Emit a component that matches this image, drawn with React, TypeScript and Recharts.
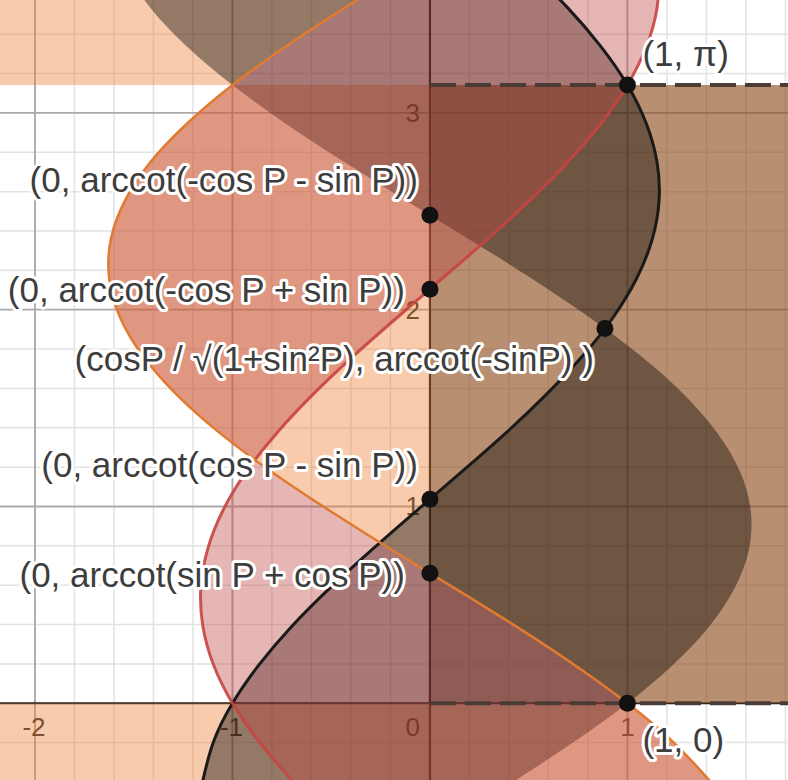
import React from 'react';
import { ComposedChart, Area, Line, Scatter, XAxis, YAxis, ReferenceLine } from 'recharts';

// ---- plot window (math units) ----
const X_MIN = -2.177;
const X_MAX = 1.813;
const Y_MIN = -0.39;
const Y_MAX = 3.574;
const X_FAR_LEFT = -2.6;
const X_FAR_RIGHT = 2.2;
const PI_Y = 3.1416;

// ---- curves, x read as a function of y ----
const yLevels = [-0.393, -0.196, 0, 0.196, 0.393, 0.589, 0.785, 0.982, 1.178, 1.374, 1.571, 1.767, 1.963, 2.16, 2.356, 2.553, 2.749, 2.945, 3.142, 3.338, 3.534, 3.731];
const orangeX = [1.416, 1.231, 1.0, 0.73, 0.432, 0.118, -0.202, -0.513, -0.805, -1.065, -1.285, -1.455, -1.57, -1.624, -1.616, -1.545, -1.416, -1.231, -1.0, -0.73, -0.432, -0.118];
const hiddenX = [0.432, 0.73, 1.0, 1.231, 1.416, 1.545, 1.616, 1.624, 1.57, 1.455, 1.285, 1.065, 0.805, 0.513, 0.202, -0.118, -0.432, -0.73, -1.0, -1.231, -1.416, -1.545];
const blackX = [-1.15, -1.096, -1.0, -0.865, -0.698, -0.503, -0.289, -0.064, 0.163, 0.385, 0.591, 0.775, 0.929, 1.047, 1.125, 1.16, 1.15, 1.096, 1.0, 0.865, 0.698, 0.503];
const redX = [-0.698, -0.865, -1.0, -1.096, -1.15, -1.16, -1.125, -1.047, -0.929, -0.775, -0.591, -0.385, -0.163, 0.064, 0.289, 0.503, 0.698, 0.865, 1.0, 1.096, 1.15, 1.16];

// ---- grid / ticks ----
const xMinorTicks = [-2, -1.8, -1.6, -1.4, -1.2, -1, -0.8, -0.6, -0.4, -0.2, 0.2, 0.4, 0.6, 0.8, 1.2, 1.4, 1.6, 1.8];
const yMinorTicks = [-0.2, 0.2, 0.4, 0.6, 0.8, 1.2, 1.4, 1.6, 1.8, 2.2, 2.4, 2.6, 2.8, 3.2, 3.4];
const xMajorTicks = [-2, -1, 1];
const yMajorTicks = [1, 2, 3];

const xTickValues = [-2, -1, 0, 1];
const xTickLabels = ['-2', '-1', '0', '1'];
const yTickValues = [1, 2, 3];
const yTickLabels = ['1', '2', '3'];

// ---- labelled points ----
const pointX = [1, 0, 0, 0.886, 0, 0, 1];
const pointY = [3.1416, 2.48, 2.104, 1.904, 1.037, 0.661, 0];
const pointLabels = [
  '(1, π)',
  '(0, arccot(-cos P - sin P))',
  '(0, arccot(-cos P + sin P))',
  '(cosP / √(1+sin²P), arccot(-sinP) )',
  '(0, arccot(cos P - sin P))',
  '(0, arccot(sin P + cos P))',
  '(1, 0)',
];

// label placement (pixels relative to the dot)
const labelPlacement = [
  { anchor: 'start', dx: 15, dy: -19 },
  { anchor: 'end', dx: -12, dy: -23 },
  { anchor: 'end', dx: -25, dy: 13 },
  { anchor: 'end', dx: -11, dy: 42 },
  { anchor: 'end', dx: -12, dy: -22 },
  { anchor: 'end', dx: -25, dy: 14 },
  { anchor: 'start', dx: 15, dy: 49 },
];

const curveRows = yLevels.map((y, i) => ({ y, o: orangeX[i], h: hiddenX[i], b: blackX[i], r: redX[i] }));
const orangeBottom = curveRows.slice(0, 3);
const orangeMiddle = curveRows.slice(2, 19);
const orangeTop = curveRows.slice(18);
const rectRows = [{ y: 0 }, { y: PI_Y }];
const piDashRows = [{ y: PI_Y, x: 0 }, { y: PI_Y, x: X_FAR_RIGHT }];
const zeroDashRows = [{ y: 0, x: 0 }, { y: 0, x: X_FAR_RIGHT }];

const tickRows = [
  ...xTickValues.map((x, i) => ({ x, y: 0, label: xTickLabels[i], kind: 'x' })),
  ...yTickValues.map((y, i) => ({ x: 0, y, label: yTickLabels[i], kind: 'y' })),
];
const pointRows = pointX.map((x, i) => ({ x, y: pointY[i], label: pointLabels[i], idx: i }));

const FONT = "'Liberation Sans', Arial, Helvetica, sans-serif";

const TickText = (props: any) => {
  const { cx, cy, payload } = props;
  if (cx == null || cy == null) return null;
  if (payload.kind === 'x') {
    const origin = payload.x === 0;
    return (
      <text
        x={origin ? cx - 10 : cx - (payload.x < 0 ? 1 : 0)}
        y={cy + 33}
        textAnchor={origin ? 'end' : 'middle'}
        fontFamily={FONT}
        fontSize={26}
        fill="#333"
      >
        {payload.label}
      </text>
    );
  }
  return (
    <text x={cx - 10} y={cy + 9} textAnchor="end" fontFamily={FONT} fontSize={26} fill="#333">
      {payload.label}
    </text>
  );
};

const PointMark = (props: any) => {
  const { cx, cy, payload } = props;
  if (cx == null || cy == null) return null;
  const p = labelPlacement[payload.idx];
  return (
    <g>
      <circle cx={cx} cy={cy} r={8.5} fill="#111" />
      <text
        x={cx + p.dx}
        y={cy + p.dy}
        textAnchor={p.anchor as any}
        fontFamily={FONT}
        fontSize={35}
        fill="#3d3d3d"
        stroke="#ffffff"
        strokeWidth={6}
        strokeLinejoin="round"
        paintOrder="stroke"
      >
        {payload.label}
      </text>
    </g>
  );
};

const areaCommon = { stroke: 'none', isAnimationActive: false, activeDot: false, dot: false } as any;
const lineCommon = { dot: false, activeDot: false, isAnimationActive: false } as any;

export default function App() {
  return (
    <div style={{ position: 'absolute', left: 0, top: 0, width: 788, height: 780, background: '#fff' }}>
      <ComposedChart
        layout="vertical"
        width={788}
        height={780}
        margin={{ top: 0, right: 0, bottom: 0, left: 0 }}
      >
        <XAxis type="number" dataKey="x" domain={[X_MIN, X_MAX]} allowDataOverflow hide />
        <YAxis type="number" dataKey="y" domain={[Y_MIN, Y_MAX]} allowDataOverflow reversed hide />

        {xMinorTicks.map((v) => (
          <ReferenceLine key={'xm' + v} x={v} stroke="#e2e2e2" strokeWidth={1.5} zIndex={-90} />
        ))}
        {yMinorTicks.map((v) => (
          <ReferenceLine key={'ym' + v} y={v} stroke="#e2e2e2" strokeWidth={1.5} zIndex={-90} />
        ))}
        {xMajorTicks.map((v) => (
          <ReferenceLine key={'xM' + v} x={v} stroke="#a9a9a9" strokeWidth={1.8} zIndex={-80} />
        ))}
        {yMajorTicks.map((v) => (
          <ReferenceLine key={'yM' + v} y={v} stroke="#a9a9a9" strokeWidth={1.8} zIndex={-80} />
        ))}
        <ReferenceLine x={0} stroke="#1e1e1e" strokeWidth={2.2} zIndex={-70} />
        <ReferenceLine y={0} stroke="#1e1e1e" strokeWidth={2.2} zIndex={-70} />

        <Scatter data={tickRows} shape={TickText} isAnimationActive={false} zIndex={-50} />

        {/* orange region */}
        <Area data={orangeBottom} dataKey={(d: any) => [X_FAR_LEFT, d.o]} type="natural" fill="#eb7d2d" fillOpacity={0.4} {...areaCommon} />
        <Area data={orangeMiddle} dataKey={(d: any) => [d.o, X_FAR_RIGHT]} type="natural" fill="#eb7d2d" fillOpacity={0.4} {...areaCommon} />
        <Area data={orangeTop} dataKey={(d: any) => [X_FAR_LEFT, d.o]} type="natural" fill="#eb7d2d" fillOpacity={0.4} {...areaCommon} />
        {/* brown band x>0, 0<y<pi */}
        <Area data={rectRows} dataKey={() => [0, X_FAR_RIGHT]} type="linear" fill="#5b3518" fillOpacity={0.4} {...areaCommon} />
        {/* black region between hidden curve and black curve */}
        <Area data={curveRows} dataKey={(d: any) => [d.h, d.b]} type="natural" fill="#000000" fillOpacity={0.4} {...areaCommon} />
        {/* red region between orange and red curves */}
        <Area data={curveRows} dataKey={(d: any) => [d.o, d.r]} type="natural" fill="#be4843" fillOpacity={0.4} {...areaCommon} />

        <Line data={piDashRows} dataKey="x" type="linear" stroke="#4a3c34" strokeWidth={4} strokeDasharray="26 9" {...lineCommon} />
        <Line data={zeroDashRows} dataKey="x" type="linear" stroke="#4a3c34" strokeWidth={4} strokeDasharray="26 9" {...lineCommon} />

        <Line data={curveRows} dataKey="b" type="natural" stroke="#1a1a1a" strokeWidth={3} {...lineCommon} />
        <Line data={curveRows} dataKey="r" type="natural" stroke="#c74440" strokeWidth={3} strokeOpacity={0.9} {...lineCommon} />
        <Line data={curveRows} dataKey="o" type="natural" stroke="#e07a30" strokeWidth={2.5} {...lineCommon} />

        <Scatter data={pointRows} shape={PointMark} isAnimationActive={false} />
      </ComposedChart>
    </div>
  );
}
